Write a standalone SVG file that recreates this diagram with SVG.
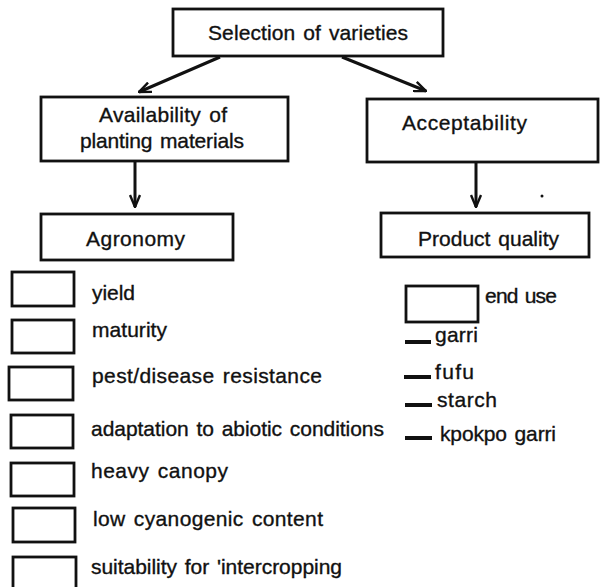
<svg xmlns="http://www.w3.org/2000/svg" width="602" height="587" viewBox="0 0 602 587">
<style>
  .box { fill: #fff; stroke: #111; stroke-width: 2.8; }
  .sbox { fill: #fff; stroke: #111; stroke-width: 2.8; }
  text { font-family: "Liberation Sans", Arial, sans-serif; font-size: 21px; fill: #111; stroke: #111; stroke-width: 0.35; word-spacing: 2px; }
  .c { text-anchor: middle; }
  .conn { stroke: #111; stroke-width: 3; fill: none; }
  .dash { fill: #111; }
</style>
<defs>
  <marker id="arr" viewBox="0 0 14 12" refX="13" refY="6" markerWidth="14" markerHeight="12" markerUnits="userSpaceOnUse" orient="auto">
    <path d="M1,1 L13,6 L1,11" fill="none" stroke="#111" stroke-width="2.4"/>
  </marker>
</defs>
<rect width="602" height="587" fill="#fff"/>

<g id="connectors">
  <line class="conn" x1="220" y1="57" x2="139" y2="92" marker-end="url(#arr)"/>
  <line class="conn" x1="342" y1="57" x2="426" y2="91" marker-end="url(#arr)"/>
  <line class="conn" x1="135" y1="162" x2="135" y2="207" marker-end="url(#arr)"/>
  <line class="conn" x1="476" y1="163" x2="476" y2="207" marker-end="url(#arr)"/>
</g>

<g id="selection">
  <rect class="box" x="173" y="9" width="270" height="47"/>
  <text x="308" y="40" class="c" textLength="200" lengthAdjust="spacing">Selection of varieties</text>
</g>

<g id="availability">
  <rect class="box" x="41" y="97" width="247" height="64"/>
  <text x="163" y="122" class="c" textLength="128" lengthAdjust="spacing">Availability of</text>
  <text x="162" y="148" class="c" textLength="164" lengthAdjust="spacing">planting materials</text>
</g>

<g id="acceptability">
  <rect class="box" x="367" y="99" width="231" height="63"/>
  <text x="402" y="130" textLength="125" lengthAdjust="spacing">Acceptability</text>
</g>

<g id="agronomy">
  <rect class="box" x="41" y="214" width="192" height="46"/>
  <text x="86" y="246" textLength="99" lengthAdjust="spacing">Agronomy</text>
</g>

<g id="product-quality">
  <rect class="box" x="381" y="213" width="208" height="44"/>
  <text x="418" y="246" textLength="141" lengthAdjust="spacing">Product quality</text>
</g>

<g id="yield">
  <rect class="sbox" x="12" y="272" width="62" height="34"/>
  <text x="92" y="300" textLength="43" lengthAdjust="spacing">yield</text>
</g>
<g id="maturity">
  <rect class="sbox" x="12" y="320" width="62" height="33"/>
  <text x="92" y="337" textLength="75" lengthAdjust="spacing">maturity</text>
</g>
<g id="pest">
  <rect class="sbox" x="9" y="367" width="64" height="33"/>
  <text x="92" y="383" textLength="230" lengthAdjust="spacing">pest/disease resistance</text>
</g>
<g id="adaptation">
  <rect class="sbox" x="11" y="415" width="62" height="33"/>
  <text x="91" y="436" textLength="293" lengthAdjust="spacing">adaptation to abiotic conditions</text>
</g>
<g id="canopy">
  <rect class="sbox" x="11" y="463" width="63" height="33"/>
  <text x="91" y="478" textLength="137" lengthAdjust="spacing">heavy canopy</text>
</g>
<g id="cyanogenic">
  <rect class="sbox" x="13" y="508" width="62" height="34"/>
  <text x="93" y="526" textLength="230" lengthAdjust="spacing">low cyanogenic content</text>
</g>
<g id="intercropping">
  <rect class="sbox" x="13" y="557" width="63" height="40"/>
  <text x="91" y="574" textLength="251" lengthAdjust="spacing">suitability for 'intercropping</text>
</g>

<g id="end-use">
  <rect class="sbox" x="406" y="286" width="72" height="36"/>
  <text x="485" y="303" textLength="72" lengthAdjust="spacing">end use</text>
</g>
<g id="garri">
  <rect class="dash" x="405" y="340" width="26" height="4"/>
  <text x="435" y="342" textLength="43" lengthAdjust="spacing">garri</text>
</g>
<g id="fufu">
  <rect class="dash" x="404" y="375" width="27" height="4"/>
  <text x="435" y="379" textLength="39" lengthAdjust="spacing">fufu</text>
</g>
<g id="starch">
  <rect class="dash" x="405" y="403" width="27" height="4"/>
  <text x="437" y="407" textLength="60" lengthAdjust="spacing">starch</text>
</g>
<g id="kpokpo">
  <rect class="dash" x="405" y="436" width="27" height="4"/>
  <text x="440" y="441" textLength="116" lengthAdjust="spacing">kpokpo garri</text>
</g>

<circle cx="542" cy="196" r="1.5" fill="#111"/>
</svg>
